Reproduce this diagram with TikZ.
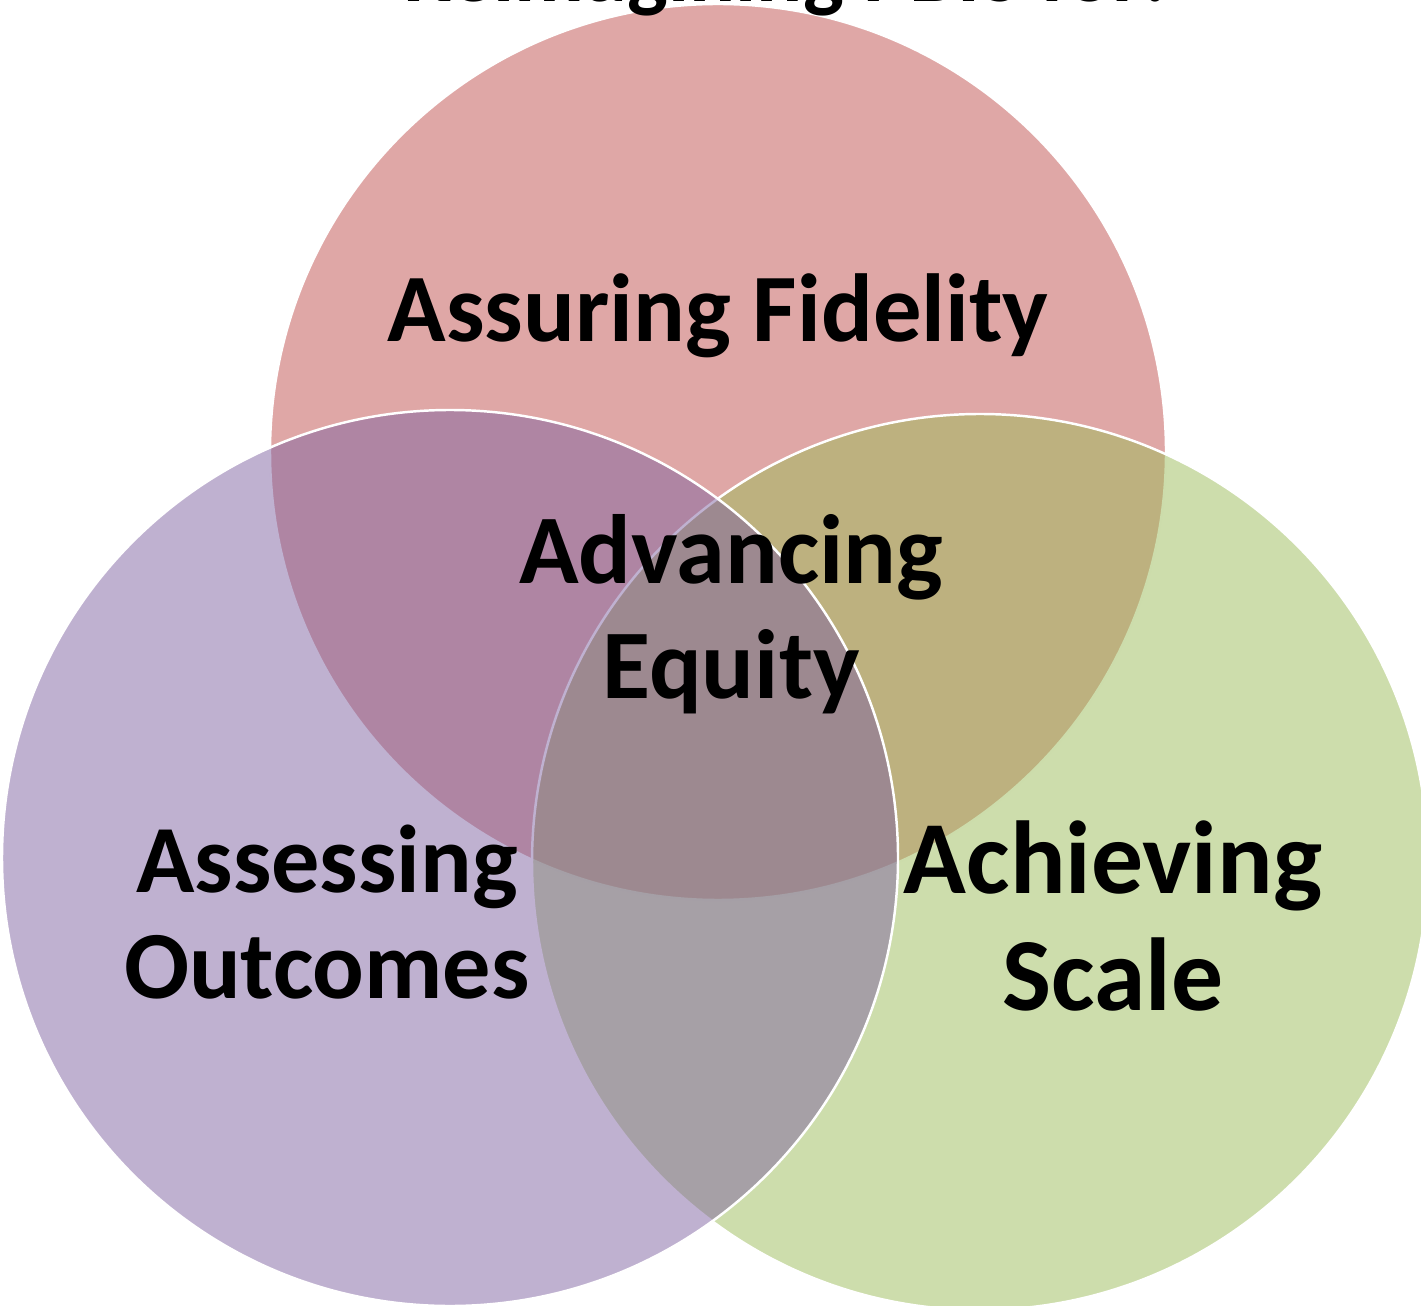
\documentclass[tikz,border=0pt]{standalone}
\usepackage{fontspec}
\setmainfont{Carlito}
\usetikzlibrary{positioning}

\definecolor{fidelityred}{HTML}{C0504D}
\definecolor{outcomespurple}{HTML}{8064A2}
\definecolor{scalegreen}{HTML}{9BBB59}

\begin{document}
\begin{tikzpicture}[
    venn/.style={circle, draw=white, line width=0.7pt, fill opacity=0.5,
      minimum size=8.96cm, inner sep=0pt},
    vennlabel/.style={align=center, anchor=base, inner sep=0pt, text=black}
  ]
  \useasboundingbox (0,0) rectangle (14.21,-13.06);
  \clip (0,0) rectangle (14.21,-13.06);

  % the three sets
  \node [venn, fill=fidelityred] (fidelity) at (7.18,-4.52) {};
  \node [venn, fill=scalegreen] (scale) at (9.80,-8.62) {};
  \node [venn, fill=outcomespurple] (outcomes) at (4.50,-8.58) {};

  % heading, mostly above the page
  \node [vennlabel, font=\bfseries\fontsize{24.5}{28}\selectfont] (heading) at (7.85,-0.02) {Reimagining PBIS for:};

  % labels (base = last line)
  \node [vennlabel, font=\bfseries\fontsize{27.5}{30}\selectfont] (fidelitytext) at (7.18,-3.42) {Assuring Fidelity};
  \node [vennlabel, font=\bfseries\fontsize{28}{32.7}\selectfont] (equitytext) at (7.31,-6.98) {Advancing\\Equity};
  \node [vennlabel, font=\bfseries\fontsize{27.4}{30}\selectfont] (outcomestext) at (3.27,-9.98) {Assessing\\Outcomes};
  \node [vennlabel, font=\bfseries\fontsize{29.5}{33.2}\selectfont] (scaletext) at (11.13,-10.10) {Achieving\\Scale};
\end{tikzpicture}
\end{document}
